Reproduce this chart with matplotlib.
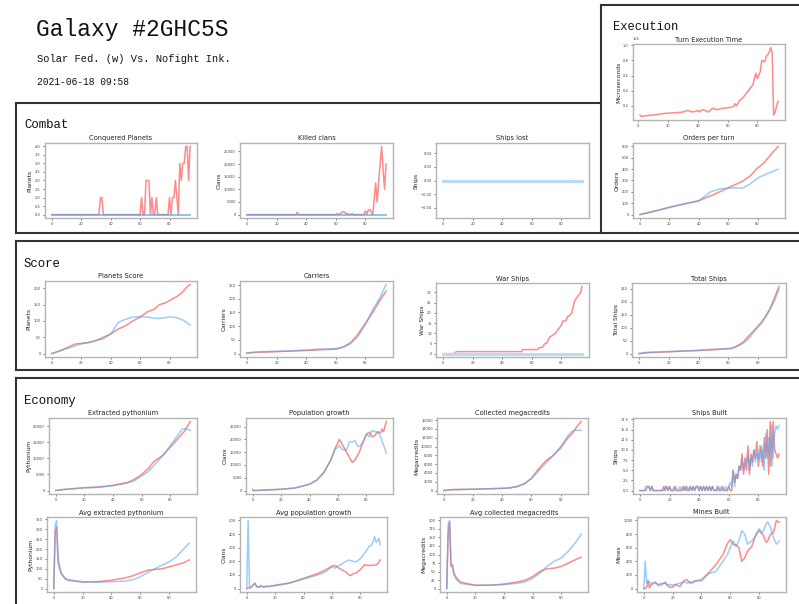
import matplotlib
matplotlib.use("Agg")
import matplotlib.pyplot as plt
from matplotlib.lines import Line2D

W, H = 799, 604

# ---------------- data ----------------
title_text = "Galaxy #2GHC5S"
subtitle_text = "Solar Fed. (w) Vs. Nofight Ink."
date_text = "2021-06-18 09:58"

# Combat
conq_x = [0, 32, 33, 34, 35, 60, 61, 62, 63, 64, 65, 66, 67, 68, 69, 70, 71, 72, 79, 80, 81, 82, 83, 84, 85, 86, 87, 88, 89, 90, 91, 92, 93, 94]
conq_red = [0, 0, 1, 1, 0, 0, 1, 0, 0, 2, 2, 2, 0, 1, 0, 0, 1, 0, 0, 1, 0, 1, 1, 2, 1, 0, 3, 2, 3, 3, 4, 4, 2, 4]
conq_blue_x = [0, 94]
conq_blue = [0, 0]

killed_x = [0, 33, 34, 35, 60, 61, 62, 64, 65, 66, 67, 68, 69, 70, 71, 72, 79, 80, 81, 82, 83, 84, 85, 86, 87, 88, 89, 90, 91, 92, 93, 94]
killed_red = [0, 0, 900, 0, 0, 400, 0, 800, 1200, 1000, 200, 500, 0, 0, 400, 0, 0, 1500, 200, 1800, 2000, 1000, 0, 6000, 12500, 5000, 13000, 20000, 27000, 18000, 10000, 20000]
killed_blue_x = [0, 94]
killed_blue = [0, 0]

lost_x = [0, 94]
lost_red = [0, 0]
lost_blue = [0, 0]

# Execution
exec_x = [1, 2, 5, 10, 17, 20, 25, 30, 33, 35, 36, 38, 40, 41, 43, 45, 47, 50, 53, 57, 60, 62, 64, 65, 66, 68, 70, 72, 74, 76, 77, 78, 79, 80, 82, 83, 85, 86, 88, 89, 90, 91, 92, 93, 94]
exec_red = [80000, 60000, 70000, 80000, 100000, 105000, 110000, 120000, 140000, 130000, 120000, 125000, 140000, 120000, 150000, 140000, 120000, 170000, 150000, 170000, 175000, 180000, 190000, 230000, 200000, 270000, 300000, 350000, 400000, 450000, 480000, 550000, 630000, 560000, 650000, 800000, 780000, 850000, 900000, 970000, 900000, 80000, 120000, 200000, 260000]

orders_x = [0, 10, 20, 30, 40, 45, 48, 50, 55, 60, 65, 70, 75, 80, 83, 85, 88, 90, 92, 94]
orders_red = [0, 30, 65, 95, 120, 150, 165, 175, 205, 235, 265, 295, 340, 410, 440, 465, 510, 545, 570, 600]
orders_blue = [0, 30, 62, 92, 122, 170, 200, 208, 228, 232, 236, 232, 270, 320, 340, 350, 370, 375, 390, 400]

# Score
planets_x = [0, 5, 10, 15, 17, 25, 30, 35, 40, 45, 50, 55, 60, 65, 70, 73, 77, 80, 85, 88, 92, 94]
planets_red = [0, 8, 17, 28, 30, 33, 40, 50, 60, 75, 85, 100, 112, 128, 137, 150, 155, 163, 175, 185, 205, 212]
planets_blue = [0, 7, 15, 22, 26, 35, 40, 45, 60, 95, 105, 112, 113, 112, 108, 108, 110, 113, 110, 105, 95, 87]

carriers_x = [0, 5, 10, 20, 30, 40, 50, 60, 63, 66, 70, 75, 80, 85, 90, 94]
carriers_red = [3, 4, 5, 7, 9, 11, 14, 16, 20, 27, 40, 70, 110, 150, 195, 228]
carriers_blue = [0, 5, 7, 8, 10, 13, 16, 18, 20, 25, 35, 62, 105, 160, 205, 252]

war_x = [0, 8, 9, 53, 54, 64, 65, 67, 69, 70, 72, 74, 76, 78, 80, 81, 83, 84, 86, 87, 89, 91, 93, 94]
war_red = [0, 0, 1, 1, 2, 2, 3, 3, 5, 5, 8, 9, 10, 12, 14, 16, 16, 18, 19, 20, 26, 28, 30, 33]
war_blue_x = [0, 94]
war_blue = [0, 0]

total_x = [0, 5, 10, 20, 30, 40, 50, 62, 66, 70, 74, 78, 82, 85, 88, 91, 94]
total_red = [0, 3, 5, 7, 10, 12, 15, 20, 30, 45, 70, 95, 120, 145, 175, 215, 260]
total_blue = [0, 5, 6, 8, 10, 13, 17, 20, 28, 40, 60, 90, 115, 140, 170, 205, 250]

# Economy
pyth_x = [0, 5, 20, 30, 40, 50, 55, 60, 65, 68, 70, 75, 80, 85, 88, 90, 91, 94]
pyth_red = [0, 300, 900, 1100, 1600, 2500, 3500, 5000, 7000, 8700, 9500, 11000, 13500, 16000, 17500, 18500, 19200, 21500]
pyth_blue = [0, 300, 800, 1000, 1500, 2300, 3000, 4500, 6000, 7500, 8500, 11000, 14000, 17000, 19000, 19300, 19200, 18700]

pop_x = [0, 1, 10, 20, 30, 40, 45, 50, 55, 58, 61, 63, 66, 68, 70, 72, 74, 75, 77, 78, 80, 82, 84, 86, 88, 90, 91, 92, 94]
pop_red = [0, 0, 200, 500, 1000, 2500, 4000, 7000, 12000, 16500, 20000, 18000, 15000, 13000, 11000, 12000, 14000, 15000, 18000, 19500, 22000, 22800, 21000, 21500, 23000, 22500, 24000, 23000, 27000]
pop_blue = [600, 0, 300, 500, 1000, 2500, 4000, 7000, 12000, 16000, 17500, 16000, 15800, 19000, 19000, 19500, 17200, 17200, 18500, 19500, 22000, 21000, 23500, 23000, 22800, 21000, 19000, 18000, 14500]

mc_x = [0, 5, 20, 40, 45, 50, 55, 60, 65, 70, 75, 80, 85, 88, 90, 94]
mc_red = [0, 200, 300, 500, 600, 900, 1500, 2800, 5000, 6800, 8000, 9700, 12000, 13000, 14000, 15700]
mc_blue = [0, 200, 300, 500, 600, 900, 1500, 2700, 4500, 6300, 8000, 10000, 12500, 13500, 13700, 13700]

ships_built_red = [0, 0, 0, 0, 0, 1, 1, 0, 1, 0,
                   0, 0, 0, 0, 0, 0, 1, 0, 1, 0,
                   1, 0, 0, 0, 1, 0, 0, 0, 0, 1,
                   0, 1, 0, 0, 1, 0, 1, 0, 1, 1,
                   0, 1, 0, 1, 0, 1, 0, 1, 0, 1,
                   0, 0, 0, 1, 0, 0, 1, 0, 0, 0,
                   1, 0, 0, 5, 2, 4, 3, 6, 5, 9,
                   4, 8, 5, 11, 4, 9, 7, 10, 8, 12,
                   6, 9, 11, 6, 13, 8, 15, 4, 17, 6,
                   17, 10, 9, 8, 9]
ships_built_blue = [0, 0, 0, 0, 1, 1, 1, 0, 1, 0,
                    0, 0, 0, 0, 0, 0, 0, 1, 1, 0,
                    1, 0, 0, 1, 0, 0, 0, 1, 0, 0,
                    1, 0, 1, 0, 1, 0, 1, 0, 1, 1,
                    0, 1, 0, 1, 0, 1, 0, 1, 0, 1,
                    0, 0, 1, 0, 0, 1, 0, 0, 1, 0,
                    1, 2, 1, 5, 1, 4, 3, 6, 5, 8,
                    5, 6, 7, 9, 5, 8, 6, 10, 7, 9,
                    8, 11, 7, 10, 5, 14, 8, 13, 6, 16,
                    8, 14, 16, 15, 16]
ships_built_x = list(range(len(ships_built_red)))

avgp_x = [0, 1, 2, 3, 5, 8, 10, 20, 30, 40, 50, 55, 60, 65, 70, 75, 80, 85, 90, 94]
avgp_red = [0, 290, 310, 130, 80, 50, 42, 33, 35, 42, 55, 65, 80, 92, 97, 100, 110, 120, 130, 145]
avgp_blue = [0, 320, 345, 160, 75, 50, 45, 35, 32, 35, 38, 45, 60, 80, 100, 118, 135, 160, 200, 230]

avgpop_x = [0, 1, 2, 3, 5, 6, 7, 8, 10, 11, 12, 14, 15, 20, 30, 40, 50, 55, 60, 62, 65, 70, 72, 73, 75, 77, 80, 83, 85, 86, 88, 90, 91, 92, 93, 94]
avgpop_red = [0, 5, 5, 8, 30, 40, 15, 10, 15, 15, 12, 15, 15, 25, 40, 75, 110, 135, 165, 170, 150, 120, 100, 95, 110, 115, 140, 175, 170, 170, 170, 172, 175, 180, 195, 210]
avgpop_blue = [0, 500, 10, 10, 35, 30, 15, 10, 25, 20, 10, 20, 15, 20, 40, 70, 100, 120, 160, 150, 170, 200, 210, 205, 200, 195, 220, 260, 290, 310, 320, 380, 340, 350, 370, 320]

avgmc_x = [0, 1, 2, 3, 4, 5, 7, 10, 20, 30, 40, 50, 55, 60, 65, 70, 75, 80, 85, 90, 94]
avgmc_red = [0, 160, 195, 65, 70, 45, 30, 18, 10, 10, 13, 20, 25, 35, 50, 58, 60, 65, 75, 85, 92]
avgmc_blue = [0, 190, 200, 70, 65, 40, 25, 15, 9, 10, 12, 16, 20, 30, 45, 65, 80, 90, 110, 135, 160]

mines_x = [0, 1, 2, 3, 4, 5, 8, 10, 12, 15, 16, 18, 20, 22, 25, 28, 30, 32, 34, 36, 40, 45, 50, 55, 58, 60, 62, 64, 66, 68, 70, 72, 75, 78, 80, 82, 83, 84, 85, 86, 88, 90, 92, 94]
mines_red = [0, 0, 20, 120, 10, 60, 80, 60, 70, 80, 60, 20, 20, 60, 30, 120, 130, 80, 100, 110, 130, 230, 350, 500, 660, 720, 650, 640, 600, 400, 450, 550, 620, 800, 850, 810, 780, 720, 680, 700, 800, 820, 1000, 970]
mines_blue = [0, 400, 80, 100, 90, 80, 100, 40, 50, 100, 50, 60, 50, 60, 80, 100, 80, 100, 80, 120, 110, 220, 250, 400, 500, 600, 700, 620, 700, 850, 800, 650, 700, 780, 880, 820, 850, 900, 950, 980, 900, 750, 650, 700]

# ---------------- drawing ----------------
RED = "#ff2a2a"
BLUE = "#4aa6f0"
FLAT_BLUE = "#b9dcf6"
SPINE = "#b4b4b4"
BOX = "#333333"
HEAD_FONT = ["Liberation Mono", "DejaVu Sans Mono"]

fig = plt.figure(figsize=(W / 100, H / 100), dpi=100)
fig.patch.set_facecolor("white")


def px_rect(l, t, r, b):
    return [l / W, 1 - b / H, (r - l) / W, (b - t) / H]


def panel(rect, title, ylabel, series):
    ax = fig.add_axes(px_rect(*rect))
    for s in series:
        xs, ys, col = s[:3]
        lw = s[3] if len(s) > 3 else 1.1
        alpha = s[4] if len(s) > 4 else 0.55
        ax.plot(xs, ys, color=col, alpha=alpha, lw=lw)
    ax.set_title(title, fontsize=4.8, pad=1.8, color="#222222")
    if ylabel:
        ax.set_ylabel(ylabel, fontsize=4.3, labelpad=1.5, color="#222222")
    ax.tick_params(labelsize=2.6, length=1.5, width=0.5, pad=1.5, colors="#444444")
    ax.yaxis.get_offset_text().set_fontsize(2.6)
    for sp in ax.spines.values():
        sp.set_color(SPINE)
        sp.set_linewidth(1.0)
    return ax


# Combat
panel((45, 143, 197, 218), "Conquered Planets", "Planets",
      [(conq_x, conq_red, RED), (conq_blue_x, conq_blue, BLUE, 1.3, 0.7)])
panel((240, 143, 393, 218), "Killed clans", "Clans",
      [(killed_x, killed_red, RED), (killed_blue_x, killed_blue, BLUE, 1.3, 0.7)])
panel((436, 143, 589, 218), "Ships lost", "Ships",
      [(lost_x, lost_red, RED, 1.0, 0.0), (lost_x, lost_blue, FLAT_BLUE, 2.2, 1.0)])

# Execution
panel((633, 44, 785, 120), "Turn Execution Time", "Microseconds",
      [(exec_x, exec_red, RED)])
panel((633, 143, 785, 218), "Orders per turn", "Orders",
      [(orders_x, orders_red, RED), (orders_x, orders_blue, BLUE)])

# Score
panel((45, 281, 197, 357), "Planets Score", "Planets",
      [(planets_x, planets_red, RED), (planets_x, planets_blue, BLUE)])
panel((240, 281, 393, 357), "Carriers", "Carriers",
      [(carriers_x, carriers_red, RED), (carriers_x, carriers_blue, BLUE)])
panel((436, 283, 589, 357), "War Ships", "War Ships",
      [(war_x, war_red, RED), (war_blue_x, war_blue, FLAT_BLUE, 2.2, 1.0)])
panel((632, 283, 786, 357), "Total Ships", "Total Ships",
      [(total_x, total_red, RED), (total_x, total_blue, BLUE)])

# Economy
panel((49, 418, 197, 494), "Extracted pythonium", "Pythonium",
      [(pyth_x, pyth_red, RED), (pyth_x, pyth_blue, BLUE)])
panel((246, 418, 393, 494), "Population growth", "Clans",
      [(pop_x, pop_red, RED), (pop_x, pop_blue, BLUE)])
panel((437, 418, 588, 494), "Collected megacredits", "Megacredits",
      [(mc_x, mc_red, RED), (mc_x, mc_blue, BLUE)])
panel((633, 418, 786, 494), "Ships Built", "Ships",
      [(ships_built_x, ships_built_red, RED), (ships_built_x, ships_built_blue, BLUE)])
panel((47, 517, 196, 592), "Avg extracted pythonium", "Pythonium",
      [(avgp_x, avgp_red, RED), (avgp_x, avgp_blue, BLUE)])
panel((240, 517, 387, 592), "Avg population growth", "Clans",
      [(avgpop_x, avgpop_red, RED), (avgpop_x, avgpop_blue, BLUE)])
panel((440, 517, 588, 592), "Avg collected megacredits", "Megacredits",
      [(avgmc_x, avgmc_red, RED), (avgmc_x, avgmc_blue, BLUE)])
panel((637, 517, 786, 592), "Mines Built", "Mines",
      [(mines_x, mines_red, RED), (mines_x, mines_blue, BLUE)])


# Box borders
def hline(y, x0, x1):
    fig.add_artist(Line2D([x0 / W, x1 / W], [1 - y / H, 1 - y / H], color=BOX, lw=1.5))


def vline(x, y0, y1):
    fig.add_artist(Line2D([x / W, x / W], [1 - y0 / H, 1 - y1 / H], color=BOX, lw=1.5))


hline(103, 16, 601)
vline(16, 103, 233)
hline(233, 16, 799)
vline(601, 5, 233)
hline(5, 601, 799)
hline(241, 16, 799)
vline(16, 241, 370)
hline(370, 16, 799)
hline(378, 16, 799)
vline(16, 378, 604)


# Header texts
def ftext(x, y, s, size, weight="normal"):
    fig.text(x / W, 1 - y / H, s, fontsize=size, family=HEAD_FONT, weight=weight,
             ha="left", va="baseline", color="#111111")


ftext(36, 36, title_text, 16.5)
ftext(37, 62, subtitle_text, 7.5)
ftext(37, 85, date_text, 6.9)
ftext(24, 128, "Combat", 8.9)
ftext(613, 30, "Execution", 8.7)
ftext(24, 267, "Score", 8.9)
ftext(24, 404, "Economy", 8.9)

fig.savefig("out.png", dpi=100, facecolor="white")
